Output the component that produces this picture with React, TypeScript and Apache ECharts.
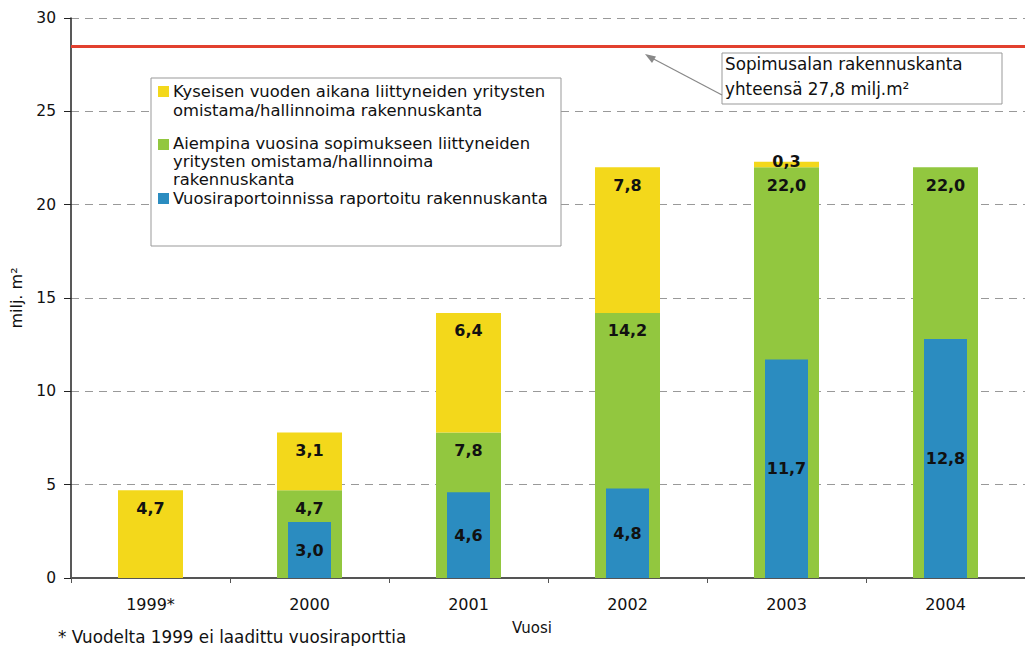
import React, { useEffect, useRef } from "react";
import * as echarts from "echarts";

const years = ["1999*", "2000", "2001", "2002", "2003", "2004"];
const earlierYears = [0, 4.7, 7.8, 14.2, 22.0, 22.0];
const joinedThisYear = [4.7, 3.1, 6.4, 7.8, 0.3, 0];
const reported = [0, 3.0, 4.6, 4.8, 11.7, 12.8];
const targetTotal = 28.5;
const yTicks = { min: 0, max: 30, interval: 5 };

const legendItems = [
  { color: "#F3D81B", text: "Kyseisen vuoden aikana liittyneiden yritysten\nomistama/hallinnoima rakennuskanta" },
  { color: "#92C73F", text: "Aiempina vuosina sopimukseen liittyneiden\nyritysten omistama/hallinnoima\nrakennuskanta" },
  { color: "#2B8CC0", text: "Vuosiraportoinnissa raportoitu rakennuskanta" },
];
const annotationText = "Sopimusalan rakennuskanta\nyhteensä 27,8 milj.m²";
const footnote = "* Vuodelta 1999 ei laadittu vuosiraporttia";

const FONT = "'DejaVu Sans', sans-serif";

const fmt = (p: any) => (p.value ? Number(p.value).toFixed(1).replace(".", ",") : "");

export default function App() {
  const ref = useRef<HTMLDivElement>(null);
  useEffect(() => {
    const chart = echarts.init(ref.current!, null, { renderer: "svg" });
    const labelBase = {
      show: true,
      formatter: fmt,
      color: "#111",
      fontFamily: FONT,
      fontWeight: "bold" as const,
      fontSize: 16,
    };
    const legendSquareY = [86, 139, 193];
    const legendTextTop = [82, 134, 189];
    const legendLineH = [19, 18, 18];
    const graphic: any[] = [
      {
        type: "rect",
        shape: { x: 151, y: 78, width: 410, height: 168 },
        style: { fill: "#fff", stroke: "#999", lineWidth: 1 },
        z: 10,
      },
      ...legendItems.flatMap((it, i) => [
        {
          type: "rect",
          shape: { x: 158, y: legendSquareY[i], width: 11, height: 11 },
          style: { fill: it.color },
          z: 11,
        },
        {
          type: "text",
          x: 173,
          y: legendTextTop[i],
          style: {
            text: it.text,
            font: `16.4px ${FONT}`,
            fill: "#111",
            lineHeight: legendLineH[i],
            verticalAlign: "top",
          },
          z: 11,
        },
      ]),
      {
        type: "rect",
        shape: { x: 722, y: 53, width: 280, height: 51 },
        style: { fill: "#fff", stroke: "#999", lineWidth: 1 },
        z: 10,
      },
      {
        type: "text",
        x: 725,
        y: 52,
        style: {
          text: annotationText,
          font: `16.8px ${FONT}`,
          fill: "#111",
          lineHeight: 24.5,
          verticalAlign: "top",
        },
        z: 11,
      },
      {
        type: "line",
        shape: { x1: 722, y1: 95, x2: 648, y2: 56 },
        style: { stroke: "#888", lineWidth: 1.2 },
        z: 11,
      },
      {
        type: "polygon",
        shape: { points: [[645, 54], [656, 56.5], [652, 63]] },
        style: { fill: "#888" },
        z: 11,
      },
      {
        type: "text",
        x: 58,
        y: 637,
        style: {
          text: footnote,
          font: `16.8px ${FONT}`,
          fill: "#111",
          verticalAlign: "middle",
        },
      },
    ];

    chart.setOption({
      animation: false,
      backgroundColor: "#fff",
      textStyle: { fontFamily: FONT },
      grid: { left: 70, top: 18, width: 961, height: 560, containLabel: false },
      xAxis: [
        {
          type: "category",
          data: years,
          name: "Vuosi",
          nameLocation: "middle",
          nameGap: 42,
          nameTextStyle: { fontFamily: FONT, fontSize: 15, color: "#111", padding: [0, 32, 0, 0] },
          axisLine: { lineStyle: { color: "#555", width: 2 } },
          axisTick: { show: true, length: 5, lineStyle: { color: "#555" } },
          axisLabel: { fontFamily: FONT, fontSize: 16, color: "#111", margin: 18 },
        },
        { type: "category", data: years, show: false },
      ],
      yAxis: {
        type: "value",
        min: yTicks.min,
        max: yTicks.max,
        interval: yTicks.interval,
        name: "milj. m²",
        nameLocation: "middle",
        nameGap: 47,
        nameTextStyle: { fontFamily: FONT, fontSize: 16, color: "#111" },
        axisLine: { show: true, lineStyle: { color: "#222", width: 1.5 } },
        axisTick: { show: true, length: 7, lineStyle: { color: "#222" } },
        axisLabel: { fontFamily: FONT, fontSize: 15.5, color: "#111", margin: 15 },
        splitLine: { show: true, lineStyle: { color: "#999", type: [8, 6], width: 1 } },
      },
      series: [
        {
          name: "Aiempina",
          type: "bar",
          stack: "total",
          xAxisIndex: 0,
          barWidth: 65,
          data: earlierYears,
          itemStyle: { color: "#92C73F" },
          label: { ...labelBase, position: "insideTop", distance: 10 },
          markLine: {
            silent: true,
            symbol: "none",
            label: { show: false },
            lineStyle: { color: "#E2402F", width: 3, type: "solid" },
            data: [{ yAxis: targetTotal }],
            z: 5,
          },
        },
        {
          name: "Kyseisen",
          type: "bar",
          stack: "total",
          xAxisIndex: 0,
          barWidth: 65,
          data: joinedThisYear.map((v, i) =>
            i === 4
              ? { value: v, label: { position: "inside", offset: [0, -3] } }
              : v
          ),
          itemStyle: { color: "#F3D81B" },
          label: { ...labelBase, position: "insideTop", distance: 10 },
        },
        {
          name: "Vuosiraportoinnissa",
          type: "bar",
          xAxisIndex: 1,
          barWidth: 43,
          data: reported,
          itemStyle: { color: "#2B8CC0" },
          label: { ...labelBase, position: "inside" },
          z: 3,
        },
      ],
      graphic,
    });
    return () => chart.dispose();
  }, []);
  return (
    <div
      ref={ref}
      style={{ position: "fixed", left: 0, top: 0, width: 1025, height: 646 }}
    />
  );
}
